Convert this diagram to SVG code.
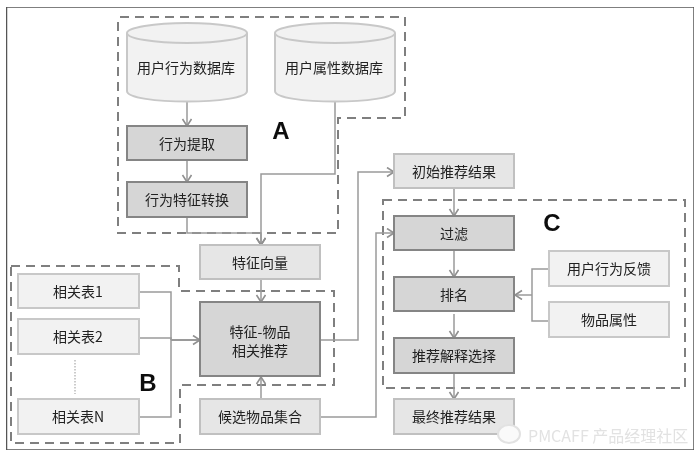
<svg xmlns="http://www.w3.org/2000/svg" width="700" height="456" viewBox="0 0 700 456">
<style>
text{font-family:"Noto Sans CJK SC","Liberation Sans",sans-serif;font-size:14px;fill:#222;text-anchor:middle;dominant-baseline:central}
.letter{font-family:"Liberation Sans",sans-serif;font-weight:bold;font-size:24px;fill:#111}
.dash{fill:none;stroke:#7f7f7f;stroke-width:2;stroke-dasharray:9 6}
.l{fill:#f2f2f2;stroke:#c8c8c8;stroke-width:2}
.m{fill:#e6e6e6;stroke:#c0c0c0;stroke-width:2}
.d{fill:#d6d6d6;stroke:#858585;stroke-width:2}
.c{fill:none;stroke:#9a9a9a;stroke-width:1.5}
.a{marker-end:url(#arr)}
.wm{font-size:16px;fill:#e2e2e2;text-anchor:start}
</style>
<defs>
<marker id="arr" markerUnits="userSpaceOnUse" markerWidth="10" markerHeight="12" refX="8" refY="5" orient="auto"><path d="M1 0.5L8 5L1 9.5" fill="none" stroke="#909090" stroke-width="1.6"/></marker>
<filter id="soft" x="0" y="0" width="100%" height="100%"><feGaussianBlur stdDeviation="0.5"/></filter>
</defs>
<rect width="700" height="456" fill="#fff"/>
<g filter="url(#soft)">
<rect x="6.5" y="7" width="687.5" height="443" fill="#fff" stroke="#555" stroke-width="1.5"/>
<g id="groups">
<path id="group-a" class="dash" d="M120 17H405V118H338V233H118V17"/>
<path id="group-b" class="dash" d="M11 266H179V291H334V385H180V443H11Z"/>
<rect id="group-c" class="dash" x="383" y="200" width="302" height="188"/>
</g>
<g id="connectors">
<path class="c a" d="M187 102V126"/>
<path class="c a" d="M187 160V182"/>
<path class="c a" d="M187 217V233H261V245"/>
<path class="c a" d="M335 102V174H261V245"/>
<path class="c a" d="M261 280V302"/>
<path class="c" d="M139 292H171V417H139"/>
<path class="c" d="M139 338H171V340"/>
<path class="c a" style="stroke-width:2" d="M171 340H200"/>
<path class="c a" d="M261 399V377"/>
<path class="c a" d="M320 340H358V172H394"/>
<path class="c a" d="M320 417H376V233H394"/>
<path class="c a" d="M454 188V216"/>
<path class="c a" d="M454 250V277"/>
<path class="c a" d="M454 314V338"/>
<path class="c a" d="M454 373V399"/>
<path class="c" d="M549 269H532V321H549"/>
<path class="c a" d="M532 295H515"/>
<path d="M75 360V394" fill="none" stroke="#bbb" stroke-width="1.5" stroke-dasharray="1.5 1.5"/>
</g>
<g id="db-behavior"><path class="l" d="M127 33V91C127 105 247 105 247 91V33"/><ellipse class="l" cx="187" cy="33" rx="60" ry="10"/><text x="186" y="67">用户行为数据库</text></g>
<g id="db-profile"><path class="l" d="M275 33V91C275 105 395 105 395 91V33"/><ellipse class="l" cx="335" cy="33" rx="60" ry="10"/><text x="334" y="67">用户属性数据库</text></g>
<g id="extract"><rect class="d" x="127" y="126" width="120" height="34"/><text x="187" y="143">行为提取</text></g>
<g id="transform"><rect class="d" x="127" y="182" width="120" height="35"/><text x="187" y="199">行为特征转换</text></g>
<g id="feature-vector"><rect class="m" x="200" y="245" width="120" height="34"/><text x="260" y="262">特征向量</text></g>
<g id="rec"><rect class="d" x="200" y="302" width="120" height="74"/><text><tspan x="260" y="331">特征-物品</tspan><tspan x="260" y="350">相关推荐</tspan></text></g>
<g id="candidates"><rect class="m" x="200" y="399" width="120" height="35"/><text x="260" y="416">候选物品集合</text></g>
<g id="table1"><rect class="l" x="18" y="274" width="121" height="34"/><text x="78" y="291">相关表1</text></g>
<g id="table2"><rect class="l" x="18" y="319" width="121" height="35"/><text x="78" y="336">相关表2</text></g>
<g id="tablen"><rect class="l" x="18" y="399" width="121" height="35"/><text x="78" y="416">相关表N</text></g>
<g id="initial"><rect class="m" x="394" y="154" width="120" height="34"/><text x="454" y="171">初始推荐结果</text></g>
<g id="filter"><rect class="d" x="394" y="216" width="120" height="34"/><text x="454" y="233">过滤</text></g>
<g id="rank"><rect class="d" x="394" y="277" width="120" height="34"/><text x="454" y="294">排名</text></g>
<g id="explain"><rect class="d" x="394" y="338" width="120" height="35"/><text x="454" y="355">推荐解释选择</text></g>
<g id="final"><rect class="m" x="394" y="399" width="120" height="35"/><text x="454" y="416">最终推荐结果</text></g>
<g id="feedback"><rect class="l" x="549" y="251" width="120" height="35"/><text x="609" y="268">用户行为反馈</text></g>
<g id="attr"><rect class="l" x="549" y="302" width="120" height="35"/><text x="609" y="319">物品属性</text></g>
<text class="letter" x="281" y="130">A</text>
<text class="letter" x="148" y="382">B</text>
<text class="letter" x="552" y="222">C</text>
<g id="watermark"><ellipse cx="509" cy="434" rx="11" ry="9" fill="#fafafa" stroke="#e2e2e2" stroke-width="2"/><text class="wm" x="528" y="435">PMCAFF 产品经理社区</text></g>
</g>
</svg>
